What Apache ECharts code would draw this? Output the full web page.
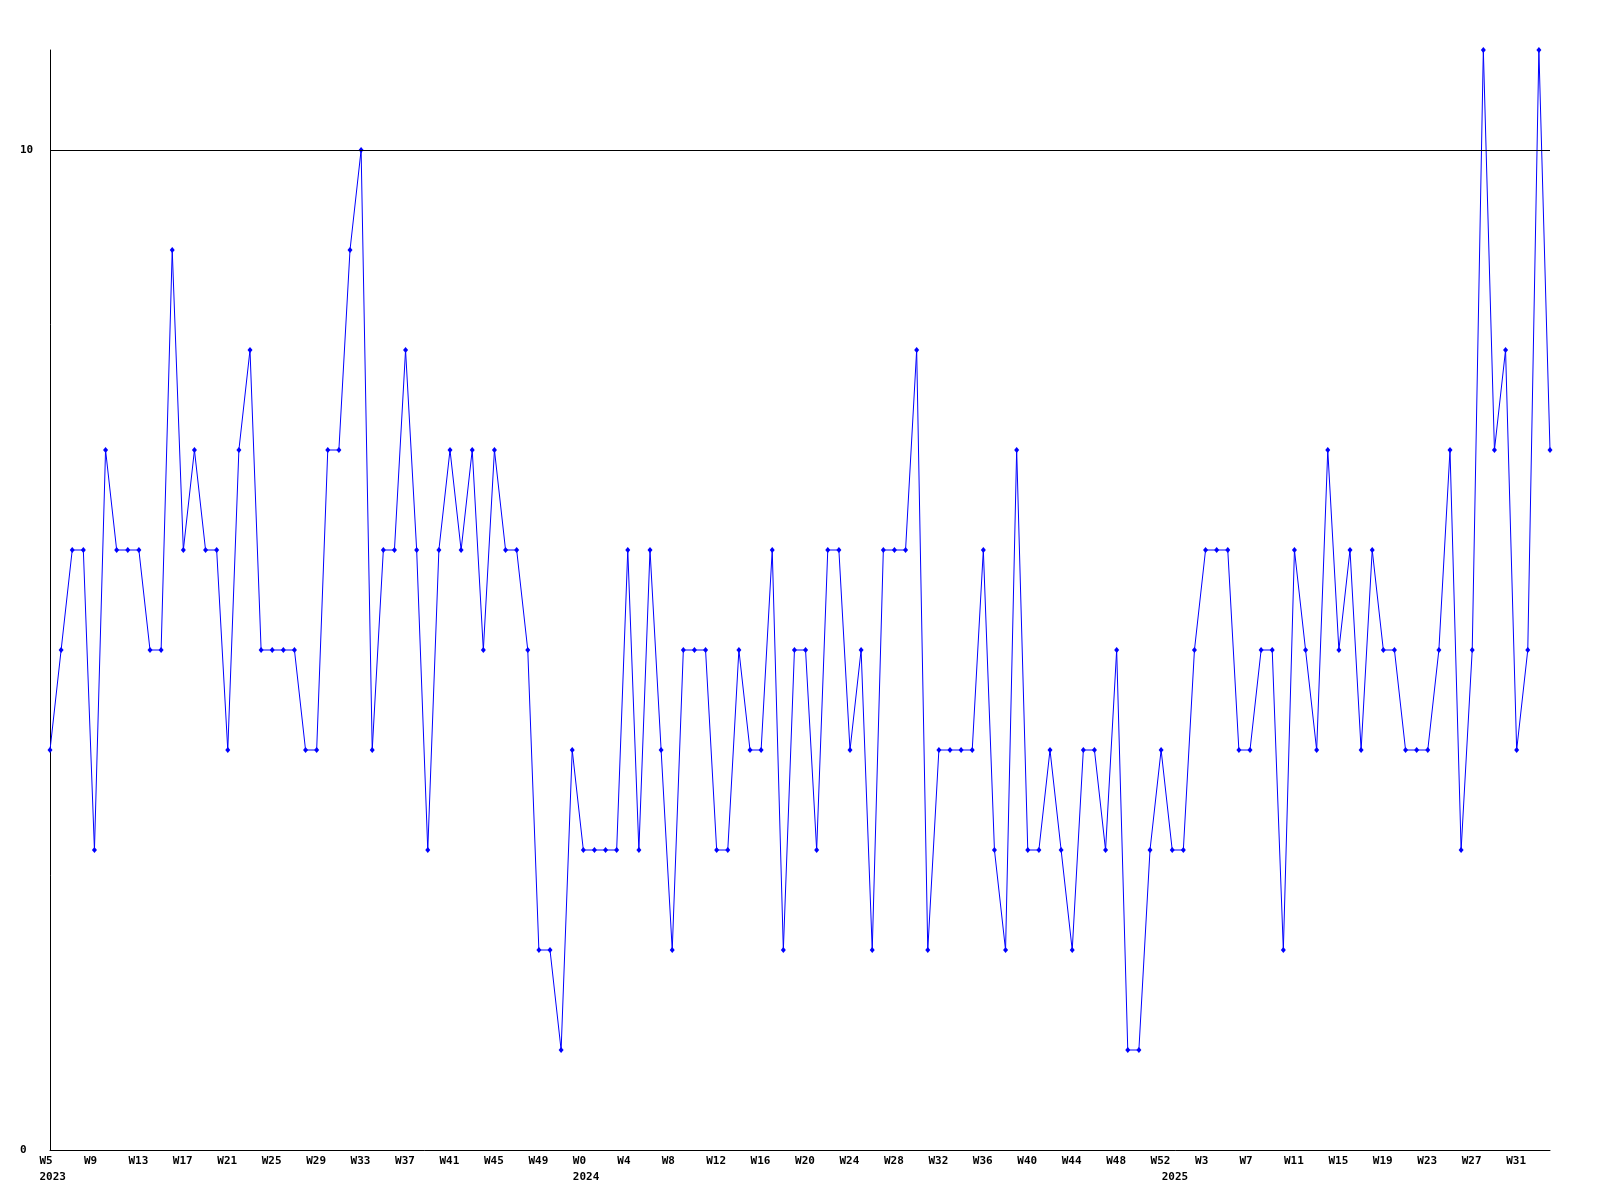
<!DOCTYPE html>
<html>
<head>
<meta charset="utf-8">
<style>
  html, body { margin: 0; padding: 0; background: #ffffff; }
  #chart { width: 1600px; height: 1200px; }
</style>
<script src="https://cdn.jsdelivr.net/npm/echarts@6/dist/echarts.min.js"></script>
</head>
<body>
<div id="chart"></div>
<script>
// Years shown on the x axis and the week range present in each
const years = [2023, 2024, 2025];
const firstWeek = [5, 0, 0];
const lastWeek = [52, 52, 34];

// Weekly values per year
const values2023 = [4,5,6,6,3,7,6,6,6,5,5,9,6,7,6,6,4,7,8,5,5,5,5,4,
                    4,7,7,9,10,4,6,6,8,6,3,6,7,6,7,5,7,6,6,5,2,2,1,4];
const values2024 = [3,3,3,3,6,3,6,4,2,5,5,5,3,3,5,4,4,6,2,5,5,3,6,
                    6,4,5,2,6,6,6,8,2,4,4,4,4,6,3,2,7,3,3,4,3,2,4,
                    4,3,5,1,1,3,4];
const values2025 = [3,3,5,6,6,6,4,4,5,5,2,6,5,4,7,5,6,
                    4,6,5,5,4,4,4,5,7,3,5,11,7,8,4,5,11,7];

// Y axis ticks
const yTicks = [0, 10];
const yMax = 11;

// Build categories
const categories = [];   // e.g. "2023-W5"
const weekText = [];
const yearStart = {};
years.forEach((y, i) => {
  for (let w = firstWeek[i]; w <= lastWeek[i]; w++) {
    if (w === firstWeek[i]) yearStart[categories.length] = String(y);
    categories.push(y + '-W' + w);
    weekText.push('W' + w);
  }
});
const values = values2023.concat(values2024, values2025);

const labelShown = (idx) => idx % 4 === 0 || yearStart[idx] !== undefined;

const chart = echarts.init(document.getElementById('chart'), null, { renderer: 'canvas' });
chart.setOption({
  animation: false,
  backgroundColor: '#ffffff',
  grid: { left: 50, right: 50, top: 50, bottom: 50, containLabel: false },
  xAxis: {
    type: 'category',
    data: categories,
    boundaryGap: false,
    axisLine: { show: true, lineStyle: { color: '#000000', width: 1 } },
    axisTick: { show: false },
    splitLine: { show: false },
    axisLabel: {
      interval: (idx) => labelShown(idx),
      hideOverlap: false,
      margin: 3,
      align: 'left',
      padding: [0, 0, 0, -10.5],
      lineHeight: 16,
      color: '#000000',
      fontFamily: 'DejaVu Sans Mono',
      fontWeight: 'bold',
      fontSize: 11,
      formatter: (val, idx) => {
        const top = idx % 4 === 0 ? weekText[idx] : '';
        const yr = yearStart[idx];
        return yr !== undefined ? top + '\n' + yr : top;
      }
    }
  },
  yAxis: {
    type: 'value',
    min: yTicks[0],
    max: yMax,
    interval: yTicks[1] - yTicks[0],
    axisLine: { show: true, lineStyle: { color: '#000000', width: 1 } },
    axisTick: { show: false },
    splitLine: { show: false },
    axisLabel: {
      showMaxLabel: false,
      margin: 30,
      align: 'left',
      color: '#000000',
      fontFamily: 'DejaVu Sans Mono',
      fontWeight: 'bold',
      fontSize: 11,
      formatter: (v) => (yTicks.indexOf(v) >= 0 ? String(v) : '')
    }
  },
  series: [{
    type: 'line',
    data: values,
    symbol: 'diamond',
    symbolSize: [5, 6],
    showAllSymbol: true,
    lineStyle: { color: '#0000ff', width: 1 },
    itemStyle: { color: '#0000ff' },
    clip: true,
    markLine: {
      silent: true,
      symbol: 'none',
      label: { show: false },
      lineStyle: { color: '#000000', width: 1, type: 'solid' },
      data: [{ yAxis: yTicks[1] }]
    }
  }]
});
</script>
</body>
</html>
